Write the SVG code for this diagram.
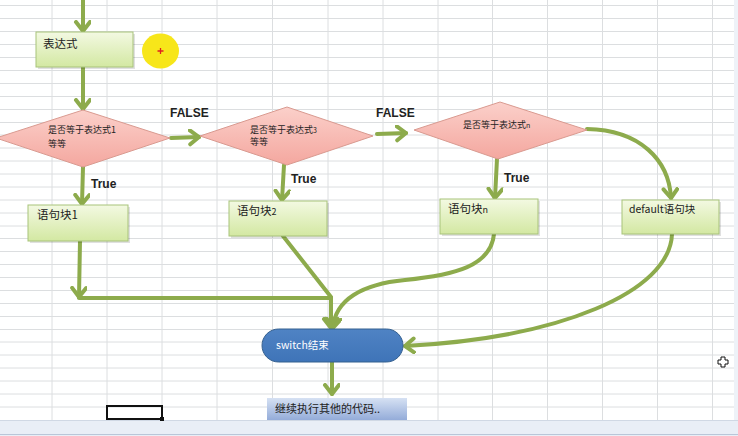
<svg xmlns="http://www.w3.org/2000/svg" width="738" height="436" viewBox="0 0 738 436">
<defs>
<linearGradient id="gBox" x1="0" y1="0" x2="0" y2="1"><stop offset="0" stop-color="#f3f9e2"/><stop offset="1" stop-color="#d3e8a2"/></linearGradient>
<linearGradient id="gDia" x1="0" y1="0" x2="0" y2="1"><stop offset="0" stop-color="#fbd0ca"/><stop offset="1" stop-color="#f4a79f"/></linearGradient>
<linearGradient id="gBlue" x1="0" y1="0" x2="0" y2="1"><stop offset="0" stop-color="#d6e1f3"/><stop offset="1" stop-color="#94acd9"/></linearGradient>
<linearGradient id="gSw" x1="0" y1="0" x2="0" y2="1"><stop offset="0" stop-color="#4f83c4"/><stop offset="1" stop-color="#3f74b8"/></linearGradient>
<marker id="ah" markerUnits="userSpaceOnUse" markerWidth="16" markerHeight="18" refX="11" refY="8" orient="auto" viewBox="0 0 16 18">
<path d="M2,1 L11,8 L2,15" fill="none" stroke="#8dab4c" stroke-width="4" stroke-linecap="round" stroke-linejoin="round"/>
</marker>
</defs>
<style>
.grid line{stroke:#dcdee0;stroke-width:1}
.conn{fill:none;stroke:#8dab4c;stroke-width:4;stroke-linecap:round}
.box{fill:url(#gBox);stroke:#a8c37a;stroke-width:1}
.shadow{fill:#000;opacity:0.12}
.dia{fill:url(#gDia);stroke:#d99a90;stroke-width:1}
.cjk{font-family:"Noto Sans CJK SC","Liberation Sans",sans-serif;fill:#222}
.lbl{font-family:"Liberation Sans","DejaVu Sans",sans-serif;font-weight:bold;font-size:12px;fill:#222}
</style>
<rect x="0" y="0" width="738" height="436" fill="#ffffff"/>
<rect x="734" y="0" width="4" height="420" fill="#eef2f8"/>
<g class="grid" id="grid">
<line x1="52" y1="0" x2="52" y2="420"/><line x1="107" y1="0" x2="107" y2="420"/><line x1="162" y1="0" x2="162" y2="420"/><line x1="217" y1="0" x2="217" y2="420"/><line x1="272.5" y1="0" x2="272.5" y2="420"/><line x1="328" y1="0" x2="328" y2="420"/><line x1="383" y1="0" x2="383" y2="420"/><line x1="438" y1="0" x2="438" y2="420"/><line x1="492.5" y1="0" x2="492.5" y2="420"/><line x1="547.5" y1="0" x2="547.5" y2="420"/><line x1="602.5" y1="0" x2="602.5" y2="420"/><line x1="657.5" y1="0" x2="657.5" y2="420"/><line x1="712.5" y1="0" x2="712.5" y2="420"/>
<line x1="0" y1="5.5" x2="734" y2="5.5"/><line x1="0" y1="18.5" x2="734" y2="18.5"/><line x1="0" y1="31.5" x2="734" y2="31.5"/><line x1="0" y1="44.5" x2="734" y2="44.5"/><line x1="0" y1="57.5" x2="734" y2="57.5"/><line x1="0" y1="70.5" x2="734" y2="70.5"/><line x1="0" y1="83.5" x2="734" y2="83.5"/><line x1="0" y1="96.5" x2="734" y2="96.5"/><line x1="0" y1="109.5" x2="734" y2="109.5"/><line x1="0" y1="122.5" x2="734" y2="122.5"/><line x1="0" y1="135" x2="734" y2="135"/><line x1="0" y1="148" x2="734" y2="148"/><line x1="0" y1="161" x2="734" y2="161"/><line x1="0" y1="174" x2="734" y2="174"/><line x1="0" y1="187" x2="734" y2="187"/><line x1="0" y1="200" x2="734" y2="200"/><line x1="0" y1="213" x2="734" y2="213"/><line x1="0" y1="226" x2="734" y2="226"/><line x1="0" y1="238.5" x2="734" y2="238.5"/><line x1="0" y1="251.5" x2="734" y2="251.5"/><line x1="0" y1="264.5" x2="734" y2="264.5"/><line x1="0" y1="277.5" x2="734" y2="277.5"/><line x1="0" y1="290.5" x2="734" y2="290.5"/><line x1="0" y1="303.5" x2="734" y2="303.5"/><line x1="0" y1="316.5" x2="734" y2="316.5"/><line x1="0" y1="329.5" x2="734" y2="329.5"/><line x1="0" y1="342" x2="734" y2="342"/><line x1="0" y1="355" x2="734" y2="355"/><line x1="0" y1="368" x2="734" y2="368"/><line x1="0" y1="381" x2="734" y2="381"/><line x1="0" y1="394" x2="734" y2="394"/><line x1="0" y1="407" x2="734" y2="407"/>
</g>
<rect x="0" y="420" width="738" height="16" fill="#e9eef6"/>
<line x1="0" y1="420.5" x2="738" y2="420.5" stroke="#d0d8e4"/>
<line x1="0" y1="434.5" x2="738" y2="434.5" stroke="#b9c6d8"/>

<g id="connectors">
<path class="conn" d="M83,0 L83,31" marker-end="url(#ah)"/>
<path class="conn" d="M83,67 L83,109" marker-end="url(#ah)"/>
<path class="conn" d="M171,138 L199,137" marker-end="url(#ah)"/>
<path class="conn" d="M377,134 L406,133" marker-end="url(#ah)"/>
<path class="conn" d="M83,167 L82,204" marker-end="url(#ah)"/>
<path class="conn" d="M284,165 L282,200" marker-end="url(#ah)"/>
<path class="conn" d="M497,159 L495,198" marker-end="url(#ah)"/>
<path class="conn" d="M587,129 C640,130 669,160 671,198" marker-end="url(#ah)"/>
<path class="conn" d="M80,241 L79,297" marker-end="url(#ah)"/>
<path class="conn" d="M79,298 L331,298"/>
<path class="conn" d="M283,236 L331,297"/>
<path class="conn" d="M331,298 L331,328" marker-end="url(#ah)"/>
<path class="conn" d="M494,234 C491,266 455,275 405,280 C362,284 335,300 333,328" marker-end="url(#ah)"/>
<path class="conn" d="M672,234 C670,292 560,338 405,346" marker-end="url(#ah)"/>
<path class="conn" d="M332,362 L332,394" marker-end="url(#ah)"/>
</g>

<g id="expr">
<rect class="shadow" x="38" y="34" width="97" height="35"/>
<rect class="box" x="36" y="32" width="97" height="35"/>
<text class="cjk" x="43" y="48" font-size="11.5">表达式</text>
</g>
<g id="cursor-dot">
<ellipse cx="160.5" cy="51" rx="18.5" ry="17.5" fill="#f7e61a"/>
<path d="M157.5,51 L163.5,51 M160.5,48 L160.5,54" stroke="#e02020" stroke-width="1.3"/>
</g>

<g id="dia1">
<polygon class="dia" points="83,110 170,138 83,167 -4,138"/>
<text class="cjk" x="48" y="133" font-size="9">是否等于表达式1</text>
<text class="cjk" x="48" y="147" font-size="9">等等</text>
</g>
<g id="dia2">
<polygon class="dia" points="287,107 373,136 287,165 200,136"/>
<text class="cjk" x="250" y="133" font-size="9">是否等于表达式<tspan font-size="7">3</tspan></text>
<text class="cjk" x="250" y="145" font-size="9">等等</text>
</g>
<g id="dia3">
<polygon class="dia" points="500,102 587,130 498,159 414,130"/>
<text class="cjk" x="463" y="128" font-size="9">是否等于表达式<tspan font-size="7">n</tspan></text>
</g>

<g id="labels">
<text class="lbl" x="170" y="117" font-size="11.5">FALSE</text>
<text class="lbl" x="376" y="117" font-size="11.5">FALSE</text>
<text class="lbl" x="91" y="188">True</text>
<text class="lbl" x="291" y="183">True</text>
<text class="lbl" x="504" y="182">True</text>
</g>

<g id="block1">
<rect class="shadow" x="30" y="207" width="100" height="36"/>
<rect class="box" x="28" y="205" width="100" height="36"/>
<text class="cjk" x="37" y="219" font-size="11.5">语句块1</text>
</g>
<g id="block2">
<rect class="shadow" x="231" y="203" width="98" height="35"/>
<rect class="box" x="229" y="201" width="98" height="35"/>
<text class="cjk" x="237" y="215" font-size="11.5">语句块<tspan font-size="9">2</tspan></text>
</g>
<g id="blockn">
<rect class="shadow" x="442" y="201" width="98" height="35"/>
<rect class="box" x="440" y="199" width="98" height="35"/>
<text class="cjk" x="448" y="213" font-size="11.5">语句块<tspan font-size="9">n</tspan></text>
</g>
<g id="default">
<rect class="shadow" x="624" y="202" width="97" height="34"/>
<rect class="box" x="622" y="200" width="97" height="34"/>
<text class="cjk" x="629" y="213" font-size="10.5">default语句块</text>
</g>

<g id="switch-end">
<rect x="262" y="329" width="141" height="33" rx="16.5" ry="16.5" fill="url(#gSw)" stroke="#35608f" stroke-width="1"/>
<text class="cjk" x="276" y="349" font-size="10.5" style="fill:#ffffff">switch结束</text>
</g>
<g id="continue">
<rect x="267" y="398" width="140" height="22" fill="url(#gBlue)"/>
<text class="cjk" x="275" y="413" font-size="11">继续执行其他的代码..</text>
</g>

<g id="selection">
<rect x="107" y="406" width="55" height="13" fill="none" stroke="#111" stroke-width="2"/>
<rect x="160" y="417" width="4" height="4" fill="#111"/>
</g>
<g id="pointer">
<path d="M721,357 L725,357 L725,360 L728,360 L728,364 L725,364 L725,367 L721,367 L721,364 L718,364 L718,360 L721,360 Z" fill="#fff" stroke="#111" stroke-width="1"/>
</g>
</svg>
